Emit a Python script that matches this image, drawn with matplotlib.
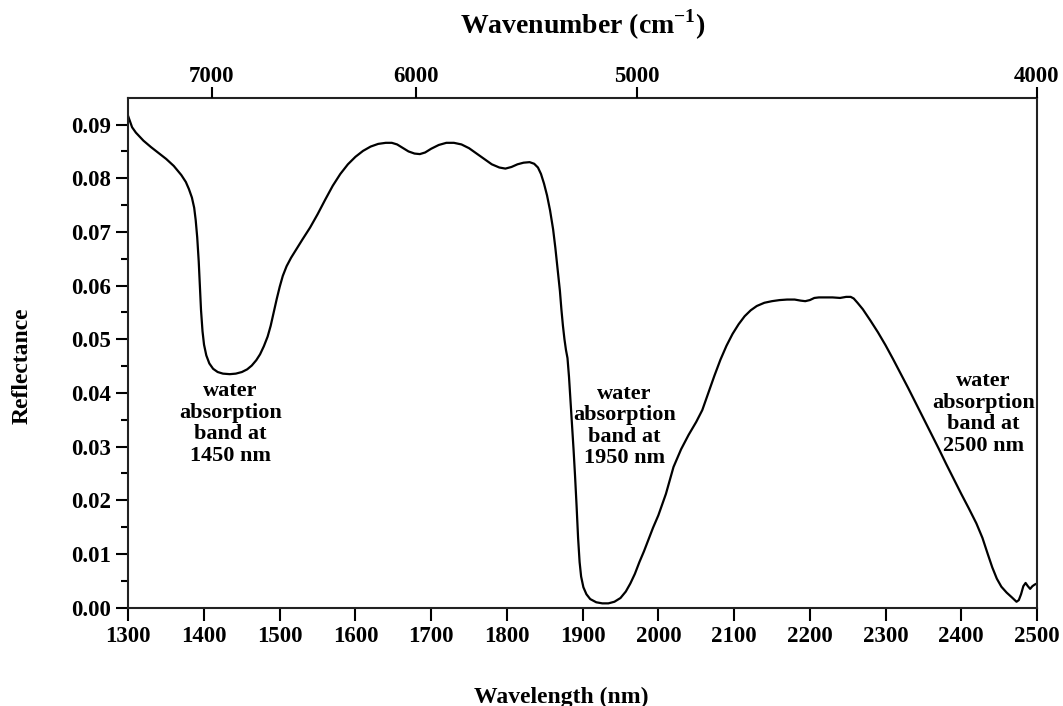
import numpy as np
import matplotlib.pyplot as plt
from matplotlib.ticker import MultipleLocator

# Спектр отражения, нм -> отражение
wavelength = [1300, 1305, 1310, 1320, 1330, 1340, 1350, 1360, 1370, 1376,
              1380, 1384, 1387, 1389, 1391, 1393, 1394.5, 1396, 1398, 1400,
              1403, 1407, 1412, 1418, 1425, 1434, 1442, 1450, 1457, 1463,
              1469, 1474, 1479, 1484, 1488, 1492, 1496, 1500, 1504, 1509,
              1515, 1522, 1530, 1540, 1550, 1560, 1570, 1580, 1590, 1600,
              1610, 1620, 1630, 1640, 1648, 1655, 1662, 1670, 1678, 1685,
              1692, 1700, 1710, 1720, 1730, 1740, 1750, 1760, 1770, 1780,
              1790, 1798, 1806, 1814, 1822, 1830, 1836, 1841, 1845, 1849,
              1853, 1857, 1861, 1864, 1867, 1870, 1872, 1874, 1876, 1878,
              1880, 1882, 1884, 1886, 1888, 1890, 1892, 1894, 1896, 1898,
              1901, 1905, 1910, 1918, 1926, 1934, 1942, 1950, 1957, 1963,
              1969, 1975, 1981, 1987, 1993, 2000, 2010, 2020, 2030, 2040,
              2050, 2058, 2066, 2074, 2082, 2090, 2098, 2106, 2114, 2122,
              2130, 2140, 2150, 2160, 2170, 2180, 2188, 2194, 2200, 2206,
              2212, 2220, 2230, 2240, 2248, 2254, 2258, 2263, 2270, 2280,
              2290, 2300, 2310, 2320, 2330, 2340, 2350, 2360, 2370, 2380,
              2390, 2400, 2410, 2420, 2428, 2435, 2441, 2447, 2453, 2460,
              2467, 2473, 2476, 2479, 2482, 2485, 2488, 2491, 2494, 2497,
              2500]
reflectance = [0.0915, 0.0895, 0.0885, 0.0870, 0.0858, 0.0847, 0.0836, 0.0823, 0.0806, 0.0793,
               0.0780, 0.0764, 0.0745, 0.0722, 0.0690, 0.0645, 0.0600, 0.0555, 0.0515, 0.0490,
               0.0470, 0.0455, 0.0445, 0.0439, 0.0436, 0.0435, 0.0436, 0.0439, 0.0444, 0.0451,
               0.0461, 0.0472, 0.0487, 0.0505, 0.0525, 0.0550, 0.0575, 0.0598, 0.0618, 0.0636,
               0.0652, 0.0668, 0.0686, 0.0708, 0.0733, 0.0760, 0.0786, 0.0808, 0.0826, 0.0840,
               0.0851, 0.0859, 0.0864, 0.0866, 0.0866, 0.0863, 0.0857, 0.0850, 0.0846, 0.0845,
               0.0848, 0.0855, 0.0862, 0.0866, 0.0866, 0.0863, 0.0856, 0.0846, 0.0836, 0.0826,
               0.0820, 0.0818, 0.0821, 0.0826, 0.0829, 0.0830, 0.0827, 0.0820, 0.0808, 0.0790,
               0.0768, 0.0740, 0.0705, 0.0670, 0.0630, 0.0590, 0.0555, 0.0525, 0.0500, 0.0480,
               0.0465, 0.0430, 0.0385, 0.0340, 0.0295, 0.0245, 0.0190, 0.0130, 0.0085, 0.0058,
               0.0038, 0.0025, 0.0016, 0.0010, 0.0008, 0.0008, 0.0011, 0.0018, 0.0030, 0.0045,
               0.0063, 0.0085, 0.0105, 0.0127, 0.0149, 0.0172, 0.0212, 0.0262, 0.0295, 0.0322,
               0.0346, 0.0368, 0.0400, 0.0432, 0.0462, 0.0488, 0.0510, 0.0528, 0.0543, 0.0554,
               0.0562, 0.0568, 0.0571, 0.0573, 0.0574, 0.0574, 0.0572, 0.0571, 0.0573, 0.0577,
               0.0578, 0.0578, 0.0578, 0.0577, 0.0579, 0.0579, 0.0576, 0.0568, 0.0556, 0.0535,
               0.0513, 0.0489, 0.0463, 0.0436, 0.0409, 0.0381, 0.0353, 0.0325, 0.0297, 0.0268,
               0.0240, 0.0212, 0.0185, 0.0157, 0.0130, 0.0100, 0.0075, 0.0054, 0.0039, 0.0028,
               0.0019, 0.0011, 0.0014, 0.0025, 0.0040, 0.0046, 0.0040, 0.0035, 0.0040, 0.0043,
               0.0045]

# Подписи полос поглощения воды
band_labels = ['water\nabsorption\nband at\n1450 nm',
               'water\nabsorption\nband at\n1950 nm',
               'water\nabsorption\nband at\n2500 nm']
band_x = [1435, 1955, 2429]
band_y = [0.0343, 0.0338, 0.0362]

# Верхняя шкала: волновое число (положения как на рисунке, в нм)
wn_labels = ['7000', '6000', '5000', '4000']
wn_tick_nm = [1410, 1680, 1972, 2500]

plt.rcParams['font.family'] = ['Liberation Serif', 'DejaVu Serif']
plt.rcParams['font.weight'] = 'bold'

fig = plt.figure(figsize=(10.63, 7.06), dpi=100)
ax = fig.add_axes([0.1207, 0.1393, 0.8548, 0.7215])

ax.plot(wavelength, reflectance, color='black', lw=1.6)

ax.set_xlim(1300, 2500)
ax.set_ylim(0, 0.0949)
ax.set_xticks(np.arange(1300, 2501, 100))
ax.yaxis.set_major_locator(MultipleLocator(0.01))
ax.yaxis.set_minor_locator(MultipleLocator(0.005))
ax.yaxis.set_major_formatter(plt.FormatStrFormatter('%.2f'))

for s in ax.spines.values():
    s.set_linewidth(1.5)
    s.set_color('#222222')

ax.tick_params(axis='both', which='major', labelsize=16.5, length=9, width=1.5, direction='out')
ax.tick_params(axis='y', which='minor', length=5, width=1.5, direction='out')
ax.tick_params(axis='x', pad=4)

for lbl, x, y in zip(band_labels, band_x, band_y):
    ax.text(x, y, lbl, ha='center', va='center', fontsize=16, fontweight='bold',
            linespacing=1.1)

ax.set_xlabel('Wavelength (nm)', fontsize=17, fontweight='bold')
ax.xaxis.set_label_coords(0.476, -0.155)
ax.set_ylabel('Reflectance', fontsize=17, fontweight='bold')
ax.yaxis.set_label_coords(-0.105, 0.475)

# Верхняя ось
top = ax.twiny()
top.set_xlim(ax.get_xlim())
top.set_xticks(wn_tick_nm)
top.set_xticklabels(wn_labels)
top.tick_params(axis='x', labelsize=16.5, length=8, width=1.5, direction='out', pad=0)
for s in top.spines.values():
    s.set_visible(False)
top.set_xlabel('Wavenumber (cm$^{\\mathregular{-1}}$)', fontsize=20, fontweight='bold', labelpad=23)

fig.savefig('out.png', dpi=100)
